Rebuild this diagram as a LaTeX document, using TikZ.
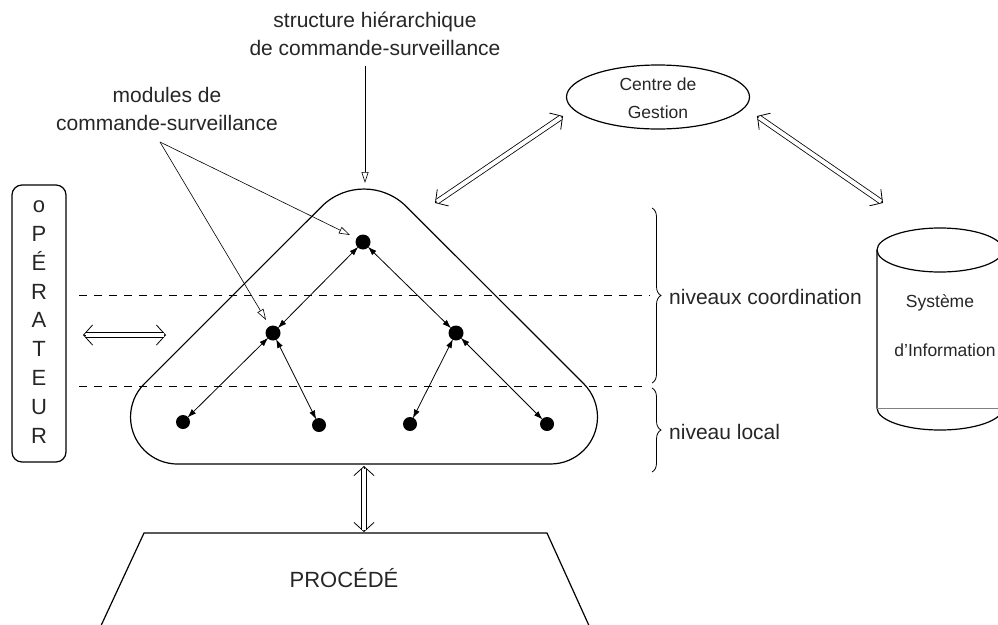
\documentclass[tikz,border=0pt]{standalone}
\usepackage{fontspec}
\setmainfont{Liberation Sans}
\usetikzlibrary{arrows.meta,shapes.geometric,decorations.pathreplacing}
\begin{document}
\begin{tikzpicture}[x=1pt,y=-1pt,
  txt/.style={text=black!85, inner sep=0pt},
  big/.style={font=\fontsize{21}{28}\selectfont},
  small/.style={font=\fontsize{17.5}{28}\selectfont},
  outline/.style={line width=1.2pt, line join=round},
  dot/.style={circle, fill=black, inner sep=0pt, minimum size=15pt},
  link/.style={line width=0.8pt, {Latex[length=9pt,width=6pt]}-{Latex[length=9pt,width=6pt]}, shorten <=-1pt, shorten >=-1pt},
  pointer/.style={line width=0.6pt, -{Triangle[open,length=11pt,width=7pt]}},
  chev/.style={line width=0.8pt, {Straight Barb[length=9pt,width=20pt]}-{Straight Barb[length=9pt,width=20pt]}},
  dblline/.style={double, double distance=4pt, line width=0.8pt, shorten <=2.5pt, shorten >=2.5pt},
  level/.style={line width=0.8pt, dash pattern=on 8pt off 7pt},
  bracedeco/.style={line width=0.8pt, decorate, decoration={brace, amplitude=9pt}}
]
\useasboundingbox (0,0) rectangle (998,624);

% operator box
\node[draw, outline, rounded corners=10pt, minimum width=54pt, minimum height=277pt, inner sep=0pt] (op) at (39,323.5) {};
\node[txt, align=center, font=\fontsize{22}{28.8}\selectfont] (optext) at (39,322) {o\\P\\É\\R\\A\\T\\E\\U\\R};

% level separators
\coordinate (l1a) at (79,295);
\coordinate (l1b) at (650,295);
\coordinate (l2a) at (79,386);
\coordinate (l2b) at (646,386);
\draw[level] (l1a) -- (l1b);
\draw[level] (l2a) -- (l2b);

% rounded triangle of the control hierarchy
\draw[outline] (177.5,464) -- (550.5,464)
  arc[start angle=90, end angle=-45, radius=47]
  -- (406.4,206.6)
  arc[start angle=-45, end angle=-135, radius=60]
  -- (144.3,383.8)
  arc[start angle=-135, end angle=-270, radius=47] -- cycle;

% modules
\node[dot] (top) at (363,242) {};
\node[dot] (ml) at (273,333) {};
\node[dot] (mr) at (456,333) {};
\node[dot, minimum size=14pt] (b1) at (183,422) {};
\node[dot, minimum size=14pt] (b2) at (319,425) {};
\node[dot, minimum size=14pt] (b3) at (410,424) {};
\node[dot, minimum size=14pt] (b4) at (547,424) {};
\draw[link] (top) -- (ml);
\draw[link] (top) -- (mr);
\draw[link] (ml) -- (b1);
\draw[link] (ml) -- (b2);
\draw[link] (mr) -- (b3);
\draw[link] (mr) -- (b4);

% top labels and pointers
\node[txt, big, align=center] (struct) at (375,34) {structure hiérarchique\\de commande-surveillance};
\coordinate (structfoot) at (365,66);
\coordinate (apex) at (365,183);
\draw[pointer] (structfoot) -- (apex);

\node[txt, big, align=center] (mods) at (167,109) {modules de\\commande-surveillance};
\coordinate (modsfoot) at (160,142);
\coordinate (toptip) at (350,235);
\coordinate (mltip) at (266,320);
\draw[pointer] (modsfoot) -- (toptip);
\draw[pointer] (modsfoot) -- (mltip);

% operator exchange
\coordinate (opl) at (83,335);
\coordinate (opr) at (166,335);
\draw[chev] (opl) -- (opr);
\draw[dblline] (opl) -- (opr);

% management centre
\node[draw, outline, ellipse, minimum width=183pt, minimum height=64pt, inner sep=0pt] (cg) at (658,97) {};
\node[txt, small, align=center] (cgtext) at (658,98) {Centre de\\Gestion};
\coordinate (cgl) at (563,116);
\coordinate (hier) at (435,203);
\coordinate (cgr) at (757,116);
\coordinate (si) at (883,203);
\draw[chev] (cgl) -- (hier);
\draw[dblline] (cgl) -- (hier);
\draw[chev] (cgr) -- (si);
\draw[dblline] (cgr) -- (si);

% information system cylinder
\draw[outline] (940,250) ellipse[x radius=63, y radius=22];
\draw[outline] (877,250) -- (877,408) arc[start angle=180, end angle=0, x radius=63, y radius=22] -- (1003,250);
\draw[gray, line width=0.6pt] (877,408) -- (1003,408);
\node[txt, small] (sys1) at (940,303) {Système};
\node[txt, small] (sys2) at (945,350) {d’Information};

% level braces
\coordinate (br1a) at (652,208);
\coordinate (br1b) at (652,383);
\coordinate (br2a) at (652,388);
\coordinate (br2b) at (652,472);
\draw[bracedeco] (br1a) -- (br1b);
\draw[bracedeco] (br2a) -- (br2b);
\node[txt, big, anchor=west] (coord) at (669,297) {niveaux coordination};
\node[txt, big, anchor=west] (local) at (669,432) {niveau local};

% process
\draw[outline] (99,630) -- (144,533) -- (547,533) -- (591,630);
\node[txt, font=\fontsize{22}{28}\selectfont] (proc) at (344,578) {PROCÉDÉ};
\coordinate (trib) at (364,466);
\coordinate (proctop) at (364,532);
\draw[chev] (trib) -- (proctop);
\draw[dblline] (trib) -- (proctop);
\end{tikzpicture}
\end{document}
